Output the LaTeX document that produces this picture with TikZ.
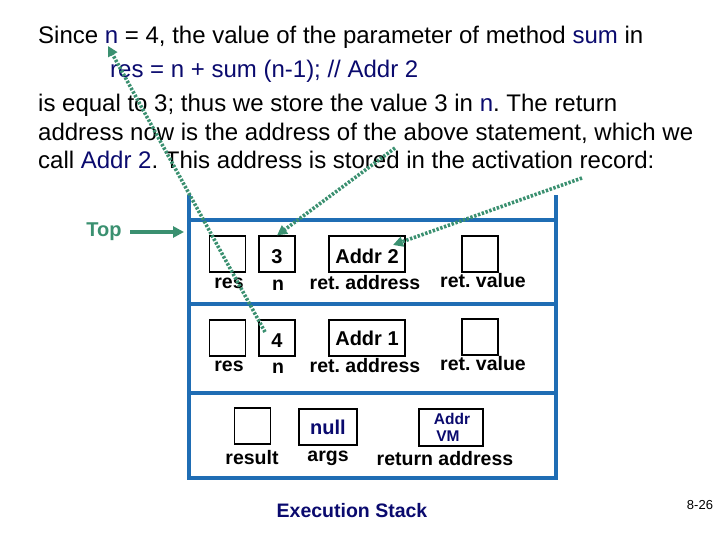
\documentclass[tikz,border=0pt]{standalone}
\usepackage{fontspec}
\setmainfont{Liberation Sans}
\usetikzlibrary{arrows.meta}
\definecolor{navy}{HTML}{0A0A6E}
\definecolor{stackblue}{HTML}{1F6DB4}
\definecolor{grn}{HTML}{3A9070}
\frenchspacing
\tikzset{
  x=1pt,y=-1pt,
  txt/.style={anchor=base west,inner sep=0pt,font=\fontsize{24}{28}\selectfont},
  stk/.style={stackblue,line width=4pt},
  cell/.style={draw=black,line width=1.2pt,minimum width=36pt,minimum height=36pt,inner sep=0pt,font=\fontsize{20}{22}\selectfont\bfseries},
  low/.style={text height=19pt,text depth=0pt},
  lbl/.style={inner sep=0pt,font=\fontsize{19.5}{22}\selectfont\bfseries},
  dots/.style={grn,line width=3.6pt,dash pattern=on 2.4pt off 1.6pt,-{Triangle[length=10pt,width=10pt]}},
}
\begin{document}
\begin{tikzpicture}
\useasboundingbox (0,0) rectangle (720,540);
% text
\node[txt] (l1) at (38,44) {Since \textcolor{navy}{n} = 4, the value of the parameter of method \textcolor{navy}{sum} in};
\node[txt,text=navy] (l2) at (110,78) {res = n + sum (n-1); // Addr 2};
\node[txt] (l3) at (38,112) {is equal to 3; thus we store the value 3 in \textcolor{navy}{n}. The return};
\node[txt] (l4) at (38,141) {address now is the address of the above statement, which we};
\node[txt] (l5) at (38,169) {call \textcolor{navy}{Addr 2}. This address is stored in the activation record:};
% stack
\coordinate (tl) at (189,195);
\coordinate (tr) at (556,195);
\coordinate (bl) at (189,478);
\coordinate (br) at (556,478);
\draw[stk] (tl) -- (bl) -- (br) -- (tr);
\draw[stk] (189,220) coordinate (h1a) -- (556,220) coordinate (h1b);
\draw[stk] (189,304) coordinate (h2a) -- (556,304) coordinate (h2b);
\draw[stk] (189,393) coordinate (h3a) -- (556,393) coordinate (h3b);
% Top
\node[font=\fontsize{20}{22}\selectfont\bfseries,text=grn,inner sep=0pt] (top) at (104,232) {Top};
\coordinate (topend) at (184,232);
\draw[grn,line width=3.5pt,-{Triangle[length=11pt,width=11pt]}] (130,232) -- (topend);
% row 1
\node[cell] (res1) at (227.5,254) {};
\node[cell,low] (n1) at (277,254) {3};
\node[cell,low,minimum width=76pt] (ra1) at (367,254) {Addr 2};
\node[cell] (rv1) at (480,254) {};
\node[lbl] (res1l) at (229,283) {res};
\node[lbl] (n1l) at (278,285) {n};
\node[lbl] (ra1l) at (365,283) {ret. address};
\node[lbl] (rv1l) at (483,281) {ret. value};
% row 2
\node[cell] (res2) at (227.5,338) {};
\node[cell,low] (n2) at (277,338) {4};
\node[cell,minimum width=76pt] (ra2) at (367,338) {Addr 1};
\node[cell] (rv2) at (480,337) {};
\node[lbl] (res2l) at (229,366) {res};
\node[lbl] (n2l) at (278,368) {n};
\node[lbl] (ra2l) at (365,366) {ret. address};
\node[lbl] (rv2l) at (483,364) {ret. value};
% row 3
\node[cell] (res3) at (252.5,426) {};
\node[cell,minimum width=58pt,text=navy] (args) at (328,427) {null};
\node[cell,minimum width=64pt,minimum height=37pt,text=navy,font=\fontsize{15.5}{17}\selectfont\bfseries,align=center] (ret3) at (451,427.5) {\hspace*{2pt}Addr\\VM\hspace*{6pt}};
\node[lbl] (res3l) at (252,458) {result};
\node[lbl] (argsl) at (328,458) {args};
\node[lbl] (ret3l) at (445,459) {return address};
% caption
\node[lbl,text=navy] (cap) at (352,511) {Execution Stack};
\node[inner sep=0pt,font=\fontsize{13}{15}\selectfont] (pg) at (700,505) {8-26};
% green dotted arrows
\coordinate (ntxt) at (108,46);
\coordinate (nfrom) at (265,332);
\draw[dots] (nfrom) -- (ntxt);
\coordinate (three) at (395,148);
\draw[dots] (three) -- (n1.north);
\coordinate (rec) at (582,178);
\draw[dots] (rec) -- (393,245) coordinate (ra1tip);
\end{tikzpicture}
\end{document}
